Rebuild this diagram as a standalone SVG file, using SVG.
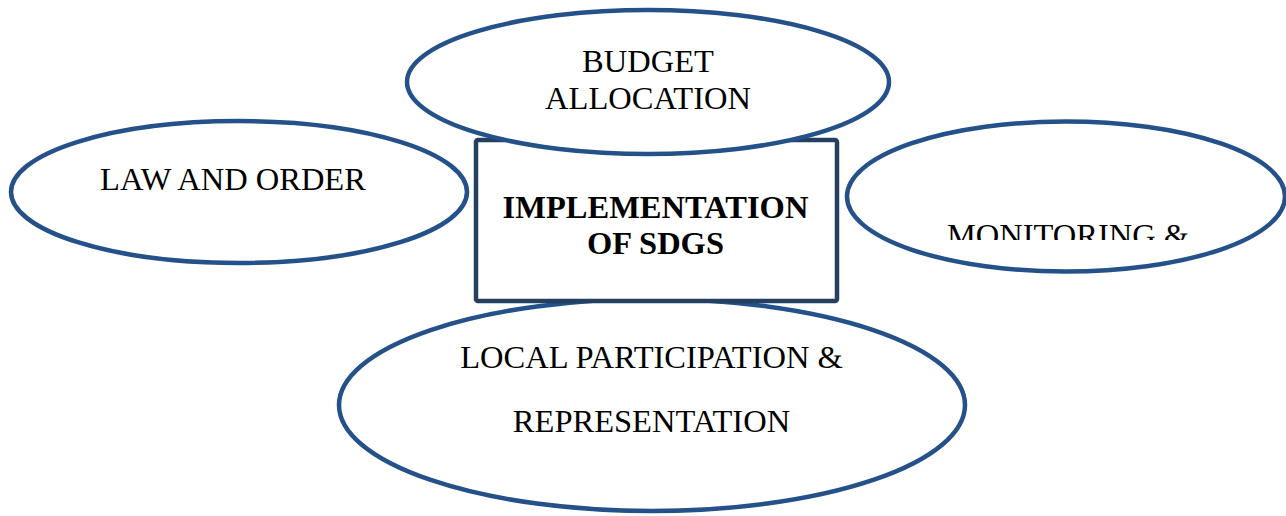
<svg xmlns="http://www.w3.org/2000/svg" width="1286" height="516" viewBox="0 0 1286 516">
<defs>
<style>
.ell{fill:#fff;stroke:#24518a;stroke-width:4.5}
.box{fill:#fff;stroke:#243f60;stroke-width:4.5}
.t{font-family:"Liberation Serif","Times New Roman",serif;font-size:32.5px;fill:#000;text-anchor:middle}
.b{font-weight:bold}
</style>
<clipPath id="monclip"><rect x="840" y="110" width="446" height="130"/></clipPath>
</defs>
<rect width="1286" height="516" fill="#fff"/>
<g id="connectors"/>
<g id="law">
<ellipse class="ell" cx="239" cy="192" rx="228" ry="71"/>
<text class="t" x="233" y="190">LAW AND ORDER</text>
</g>
<g id="monitoring">
<ellipse class="ell" cx="1066" cy="196.5" rx="219" ry="75"/>
<text class="t" x="1068" y="246" clip-path="url(#monclip)">MONITORING &amp;</text>
</g>
<g id="local">
<ellipse class="ell" cx="652" cy="405" rx="313" ry="106"/>
<text class="t" x="651.5" y="368">LOCAL PARTICIPATION &amp;</text>
<text class="t" x="651.5" y="432">REPRESENTATION</text>
</g>
<g id="implementation">
<rect class="box" x="476" y="140" width="361" height="161" rx="2"/>
<text class="t b" x="655.5" y="218">IMPLEMENTATION</text>
<text class="t b" x="655.5" y="254">OF SDGS</text>
</g>
<g id="budget">
<ellipse class="ell" cx="648" cy="82" rx="241" ry="72"/>
<text class="t" x="648" y="72">BUDGET</text>
<text class="t" x="648" y="109">ALLOCATION</text>
</g>
</svg>
